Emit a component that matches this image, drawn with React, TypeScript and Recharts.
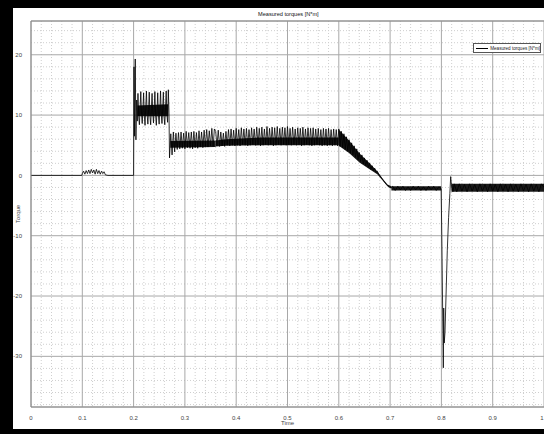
import React from "react";
import {
  ComposedChart,
  Line,
  Area,
  XAxis,
  YAxis,
  CartesianGrid,
  ReferenceLine,
  Legend,
} from "recharts";

type Pt = [number, number];
type Band = [number, number, number];

// ---- measured torque trace [time s, torque N*m] ----
const idle: Pt[] = [
  [0, 0],
  [0.099, 0],
];

const firstPulse: Pt[] = [
  [0.1, 0.3], [0.1025, 0.7], [0.105, 0.2], [0.1075, 0.8], [0.11, 0.3],
  [0.1125, 0.9], [0.115, 0.3], [0.1175, 1.0], [0.12, 0.4], [0.1225, 0.9],
  [0.125, 0.2], [0.1275, 1.0], [0.13, 0.3], [0.1325, 0.8], [0.135, 0.2],
  [0.1375, 0.7], [0.14, 0.3], [0.1425, 0.6], [0.145, 0.1], [0.15, 0.0],
];

const hold: Pt[] = [
  [0.15, 0],
  [0.2, 0],
];

const startup: Pt[] = [
  [0.2008, 18.0], [0.2016, 6.5], [0.2032, 19.3], [0.2045, 5.9], [0.206, 12.5], [0.2072, 9.0],
  [0.2085, 13.6], [0.2099, 9.8], [0.2113, 8.4], [0.2127, 11.2],
  [0.214, 13.9], [0.2154, 10.2], [0.2168, 8.6], [0.2182, 11.0],
  [0.2195, 13.7], [0.2209, 9.9], [0.2223, 8.3], [0.2237, 11.3],
  [0.225, 14.0], [0.2264, 10.1], [0.2278, 8.5], [0.2292, 10.9],
  [0.2305, 13.8], [0.2319, 9.8], [0.2333, 8.4], [0.2347, 11.1],
  [0.236, 13.6], [0.2374, 10.3], [0.2388, 8.7], [0.2402, 11.2],
  [0.2415, 13.9], [0.2429, 10.0], [0.2443, 8.3], [0.2457, 10.8],
  [0.247, 13.7], [0.2484, 9.9], [0.2498, 8.5], [0.2512, 11.0],
  [0.2525, 14.0], [0.2539, 10.2], [0.2553, 8.6], [0.2567, 11.1],
  [0.258, 13.8], [0.2594, 9.7], [0.2608, 8.4], [0.2622, 11.2],
  [0.2635, 14.0], [0.2649, 10.1], [0.2663, 8.8], [0.2677, 14.2],
  [0.269, 10.5],
];

const cruise: Pt[] = [
  [0.27, 2.9], [0.2725, 6.9], [0.275, 3.4], [0.2775, 7.2], [0.28, 3.9],
  [0.2825, 7.0], [0.285, 4.3], [0.2875, 7.1], [0.29, 4.4], [0.2925, 7.2],
  [0.295, 4.5], [0.2975, 7.0], [0.3, 4.4], [0.3025, 7.3], [0.305, 4.6],
  [0.3075, 7.1], [0.31, 4.5], [0.3125, 7.2], [0.315, 4.4], [0.3175, 7.3],
  [0.32, 4.6], [0.3225, 7.1], [0.325, 4.5], [0.3275, 7.4], [0.33, 4.7],
  [0.3325, 7.2], [0.335, 4.6], [0.3375, 7.5], [0.34, 4.8], [0.3425, 7.6],
  [0.345, 4.7], [0.3475, 7.4], [0.35, 4.9], [0.3525, 7.8], [0.355, 4.8],
  [0.3575, 7.7],
];

const loaded: Pt[] = [
  [0.36, 7.3], [0.3625, 4.9], [0.365, 7.5], [0.3675, 4.8], [0.37, 7.2],
  [0.3725, 4.9], [0.375, 7.0], [0.3775, 4.8], [0.38, 7.3], [0.3825, 5.0],
  [0.385, 7.6], [0.3875, 4.9], [0.39, 7.7], [0.3925, 5.0], [0.395, 7.5],
  [0.3975, 4.9], [0.4, 7.8], [0.4025, 5.0], [0.405, 7.6], [0.4075, 4.9],
  [0.41, 7.9], [0.4125, 5.1], [0.415, 7.7], [0.4175, 5.0], [0.42, 7.8],
  [0.4225, 4.9], [0.425, 7.6], [0.4275, 5.0], [0.43, 7.9], [0.4325, 5.1],
  [0.435, 7.7], [0.4375, 5.0], [0.44, 8.0], [0.4425, 5.1], [0.445, 7.8],
  [0.4475, 4.9], [0.45, 8.0], [0.4525, 5.0], [0.455, 7.7], [0.4575, 5.1],
  [0.46, 8.1], [0.4625, 5.0], [0.465, 7.8], [0.4675, 5.1], [0.47, 8.0],
  [0.4725, 4.9], [0.475, 7.9], [0.4775, 5.0], [0.48, 8.1], [0.4825, 5.1],
  [0.485, 7.8], [0.4875, 5.0], [0.49, 8.0], [0.4925, 5.1], [0.495, 7.9],
  [0.4975, 5.0], [0.5, 8.1], [0.5025, 5.1], [0.505, 7.8], [0.5075, 5.0],
  [0.51, 8.0], [0.5125, 5.1], [0.515, 7.7], [0.5175, 5.0], [0.52, 7.9],
  [0.5225, 5.1], [0.525, 7.8], [0.5275, 4.9], [0.53, 8.0], [0.5325, 5.0],
  [0.535, 7.7], [0.5375, 5.1], [0.54, 7.9], [0.5425, 5.0], [0.545, 7.8],
  [0.5475, 4.9], [0.55, 7.9], [0.5525, 5.0], [0.555, 7.7], [0.5575, 5.1],
  [0.56, 7.8], [0.5625, 5.0], [0.565, 7.6], [0.5675, 4.9], [0.57, 7.8],
  [0.5725, 5.0], [0.575, 7.7], [0.5775, 4.9], [0.58, 7.8], [0.5825, 5.0],
  [0.585, 7.6], [0.5875, 4.9], [0.59, 7.7], [0.5925, 5.0], [0.595, 7.6],
  [0.5975, 4.9], [0.6, 7.7],
];

const rampDown: Pt[] = [
  [0.6025, 4.8], [0.605, 7.3], [0.6075, 4.6], [0.61, 6.9], [0.6125, 4.3],
  [0.615, 6.4], [0.6175, 4.0], [0.62, 5.9], [0.6225, 3.7], [0.625, 5.4],
  [0.6275, 3.4], [0.63, 4.9], [0.6325, 3.0], [0.635, 4.4], [0.6375, 2.6],
  [0.64, 3.8], [0.6425, 2.3], [0.645, 3.4], [0.6475, 1.9], [0.65, 2.9],
  [0.6525, 1.6], [0.655, 2.5], [0.6575, 1.3], [0.66, 2.0], [0.6625, 1.0],
  [0.665, 1.6], [0.6675, 0.8], [0.67, 1.2], [0.6725, 0.5], [0.675, 0.7],
  [0.6775, 0.2], [0.68, 0.0], [0.6825, -0.3], [0.685, -0.6], [0.6875, -0.9],
  [0.69, -1.2], [0.6925, -1.5], [0.695, -1.7], [0.6975, -1.85], [0.7, -2.0],
];

const braking: Pt[] = [
  [0.7025, -2.0], [0.705, -1.8], [0.71, -2.5], [0.715, -1.8], [0.72, -2.4],
  [0.725, -1.8], [0.73, -2.5], [0.735, -1.9], [0.74, -2.5], [0.745, -1.8],
  [0.75, -2.4], [0.755, -1.8], [0.76, -2.5], [0.765, -1.9], [0.77, -2.5],
  [0.775, -1.8], [0.78, -2.4], [0.785, -1.8], [0.79, -2.5], [0.795, -1.9],
  [0.7995, -2.2],
];

const reversal: Pt[] = [
  [0.8008, -10.0], [0.8037, -31.9], [0.8045, -22.0], [0.8055, -27.8],
  [0.807, -26.0], [0.809, -20.0], [0.8115, -12.4], [0.814, -7.0],
  [0.8165, -3.0], [0.8181, -0.2], [0.8195, -1.5],
];

const tail: Pt[] = [
  [0.8225, -2.7], [0.825, -1.4], [0.83, -2.7], [0.835, -1.4], [0.84, -2.6],
  [0.845, -1.5], [0.85, -2.7], [0.855, -1.4], [0.86, -2.6], [0.865, -1.5],
  [0.87, -2.7], [0.875, -1.4], [0.88, -2.6], [0.885, -1.5], [0.89, -2.7],
  [0.895, -1.4], [0.9, -2.6], [0.905, -1.5], [0.91, -2.7], [0.915, -1.4],
  [0.92, -2.6], [0.925, -1.5], [0.93, -2.7], [0.935, -1.4], [0.94, -2.6],
  [0.945, -1.5], [0.95, -2.7], [0.955, -1.4], [0.96, -2.6], [0.965, -1.5],
  [0.97, -2.7], [0.975, -1.4], [0.98, -2.6], [0.985, -1.5], [0.99, -2.7],
  [0.995, -1.4], [1.0, -2.0],
];

// ---- dense-oscillation envelopes [time, low, high] ----
const startupBand: Band[] = [
  [0.2075, 9.8, 11.6],
  [0.2675, 9.8, 11.8],
];
const cruiseBand: Band[] = [
  [0.2715, 4.6, 5.7],
  [0.36, 4.7, 5.8],
];
const loadedBand: Band[] = [
  [0.36, 4.8, 5.8],
  [0.38, 4.9, 6.0],
  [0.45, 5.0, 6.3],
  [0.6, 5.0, 6.3],
];
const rampBand: Band[] = [
  [0.6, 4.9, 7.6],
  [0.62, 3.7, 5.8],
  [0.641, 2.1, 3.6],
  [0.66, 1.0, 2.0],
  [0.675, 0.2, 0.7],
  [0.685, -0.8, -0.5],
  [0.695, -1.8, -1.5],
  [0.7025, -2.2, -1.8],
];
const brakingBand: Band[] = [
  [0.7025, -2.5, -1.8],
  [0.7995, -2.5, -1.8],
];
const tailBand: Band[] = [
  [0.8195, -2.7, -1.4],
  [1.0, -2.7, -1.4],
];

// ---- axes ----
const timeTicks = [0, 0.1, 0.2, 0.3, 0.4, 0.5, 0.6, 0.7, 0.8, 0.9, 1];
const timeTickLabels = ["0", "0.1", "0.2", "0.3", "0.4", "0.5", "0.6", "0.7", "0.8", "0.9", "1"];
const torqueTicks = [-30, -20, -10, 0, 10, 20];
const torqueTickLabels = ["-30", "-20", "-10", "0", "10", "20"];
const torqueDomain: [number, number] = [-38.4, 25.6];

const minorTimeGrid = [
  0.02, 0.04, 0.06, 0.08, 0.12, 0.14, 0.16, 0.18, 0.22, 0.24, 0.26, 0.28,
  0.32, 0.34, 0.36, 0.38, 0.42, 0.44, 0.46, 0.48, 0.52, 0.54, 0.56, 0.58,
  0.62, 0.64, 0.66, 0.68, 0.72, 0.74, 0.76, 0.78, 0.82, 0.84, 0.86, 0.88,
  0.92, 0.94, 0.96, 0.98,
];
const minorTorqueGrid = [
  24, 22, 18, 16, 14, 12, 8, 6, 4, 2, -2, -4, -6, -8, -12, -14, -16, -18,
  -22, -24, -26, -28, -32, -34, -36, -38,
];

const seriesName = "Measured torques [N*m]";
const chartTitle = "Measured torques [N*m]";

const signalRows = [
  ...idle, ...firstPulse, ...hold, ...startup, ...cruise, ...loaded,
  ...rampDown, ...braking, ...reversal, ...tail,
].map(([t, v]) => ({ t, v }));

const bandSets = [startupBand, cruiseBand, loadedBand, rampBand, brakingBand, tailBand].map(
  (b) => b.map(([t, lo, hi]) => ({ t, range: [lo, hi] }))
);

const FONT = "'Liberation Sans', Arial, sans-serif";
const tickStyle = { fontSize: 6, fill: "#444", fontFamily: FONT };

// x tick: the last label sits flush against the right edge of the figure
const TimeTick = (props: any) => {
  const { x, y, index } = props;
  const last = index === timeTickLabels.length - 1;
  return (
    <text
      x={last ? x - 0.5 : x}
      y={y}
      dy="0.71em"
      textAnchor={last ? "end" : "middle"}
      {...tickStyle}
    >
      {timeTickLabels[index]}
    </text>
  );
};

const LegendBox = () => (
  <div
    style={{
      width: 68,
      height: 10,
      boxSizing: "border-box",
      border: "1px solid #555",
      background: "#fff",
      display: "flex",
      alignItems: "center",
      fontFamily: FONT,
      fontSize: 4.6,
      color: "#222",
      whiteSpace: "nowrap",
      overflow: "hidden",
    }}
  >
    <div style={{ width: 14, height: 1, background: "#000", marginLeft: 2, marginRight: 2 }} />
    <span>{seriesName}</span>
  </div>
);

export default function App() {
  return (
    <div
      style={{
        position: "absolute",
        left: 0,
        top: 0,
        width: 544,
        height: 434,
        overflow: "hidden",
      }}
    >
      {/* figure frame: black border on the left, top and bottom */}
      <div
        style={{
          position: "absolute",
          left: 0,
          top: 0,
          width: 600,
          height: 434,
          boxSizing: "border-box",
          background: "#fff",
          borderLeft: "13px solid #000",
          borderTop: "8px solid #000",
          borderBottom: "5px solid #000",
        }}
      />
      <div
        style={{
          position: "absolute",
          left: 258,
          top: 11,
          width: 60,
          textAlign: "center",
          fontFamily: FONT,
          fontSize: 5.6,
          color: "#111",
          whiteSpace: "nowrap",
        }}
      >
        {chartTitle}
      </div>
      <div style={{ position: "absolute", left: 0, top: 0 }}>
        <ComposedChart
          width={544}
          height={434}
          margin={{ top: 21, right: 0, bottom: 0, left: 0 }}
        >
          <CartesianGrid
            stroke="#cfcfcf"
            strokeDasharray="1 2"
            verticalValues={minorTimeGrid}
            horizontalValues={minorTorqueGrid}
          />
          <CartesianGrid stroke="#a8a8a8" strokeWidth={1} />
          <XAxis
            type="number"
            dataKey="t"
            domain={[0, 1]}
            ticks={timeTicks}
            allowDataOverflow
            height={27}
            tickLine={false}
            tickMargin={3}
            stroke="#8a8a8a"
            tick={<TimeTick />}
            interval={0}
            label={{ value: "Time", position: "insideBottom", offset: 9, style: { ...tickStyle } }}
          />
          <YAxis
            type="number"
            domain={torqueDomain}
            ticks={torqueTicks}
            tickFormatter={(_v: number, i: number) => torqueTickLabels[i]}
            allowDataOverflow
            width={31}
            tickLine={false}
            tickMargin={3}
            stroke="#8a8a8a"
            tick={tickStyle}
            interval={0}
            label={{
              value: "Torque",
              angle: -90,
              position: "insideLeft",
              offset: 18,
              style: { ...tickStyle, textAnchor: "middle" },
            }}
          />
          <ReferenceLine y={torqueDomain[1]} stroke="#8a8a8a" />
          {bandSets.map((rows, i) => (
            <Area
              key={i}
              data={rows}
              dataKey="range"
              type="linear"
              stroke="none"
              fill="#000"
              fillOpacity={0.9}
              isAnimationActive={false}
              legendType="none"
            />
          ))}
          <Line
            data={signalRows}
            dataKey="v"
            name={seriesName}
            type="linear"
            stroke="#000"
            strokeWidth={0.8}
            dot={false}
            isAnimationActive={false}
          />
          <Legend
            layout="horizontal"
            verticalAlign="middle"
            align="center"
            wrapperStyle={{ left: 473, top: 43, width: 68, height: 10 }}
            content={() => <LegendBox />}
          />
        </ComposedChart>
      </div>
    </div>
  );
}
